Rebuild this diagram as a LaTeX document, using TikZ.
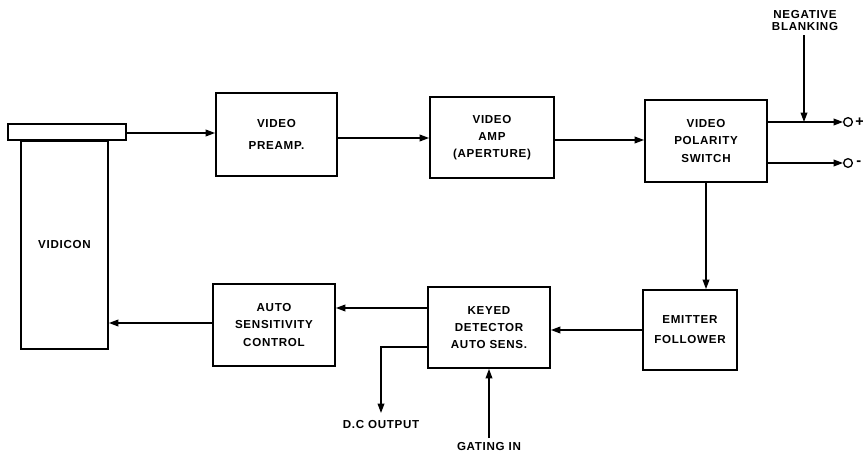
\documentclass[tikz,border=0pt]{standalone}
\usepackage{fontspec}
\setmainfont{Liberation Sans}
\newfontfamily\lbfont[LetterSpace=6]{Liberation Sans}
\usetikzlibrary{arrows.meta}
\begin{document}
\begin{tikzpicture}[x=0.75pt,y=-0.75pt,
  blk/.style={draw,line width=1.4pt,inner sep=0pt,align=center,font=\lbfont\fontsize{8.7}{13}\selectfont\bfseries},
  lbl/.style={inner sep=0pt,align=center,font=\lbfont\fontsize{8.7}{9}\selectfont\bfseries},
  wire/.style={line width=1pt},
  arr/.style={wire,-{Triangle[length=7pt,width=5pt]}},
  term/.style={draw,circle,line width=1pt,minimum size=6.5pt,inner sep=0pt}]
\useasboundingbox (0,0) rectangle (863,456);
% vidicon
\node[blk,minimum width=118*0.75pt,minimum height=16*0.75pt] (bar) at (67,132) {};
\node[blk,minimum width=87*0.75pt,minimum height=208*0.75pt,anchor=north] (vid) at (64.5,140) {VIDICON};
% top row
\node[blk,minimum width=121*0.75pt,minimum height=83*0.75pt,font=\lbfont\fontsize{8.7}{16}\selectfont\bfseries] (pre) at (276.5,134.5) {VIDEO\\PREAMP.};
\node[blk,minimum width=124*0.75pt,minimum height=81*0.75pt] (amp) at (492,137.5) {VIDEO\\AMP\\(APERTURE)};
\node[blk,minimum width=122*0.75pt,minimum height=82*0.75pt] (pol) at (706,141) {VIDEO\\POLARITY\\SWITCH};
% bottom row
\node[blk,minimum width=94*0.75pt,minimum height=80*0.75pt,font=\lbfont\fontsize{8.7}{15}\selectfont\bfseries] (ef) at (690,330) {EMITTER\\FOLLOWER};
\node[blk,minimum width=122*0.75pt,minimum height=81*0.75pt] (kd) at (489,327.5) {KEYED\\DETECTOR\\AUTO SENS.};
\node[blk,minimum width=122*0.75pt,minimum height=82*0.75pt] (asc) at (274,325) {AUTO\\SENSITIVITY\\CONTROL};
% terminals
\node[term] (tp) at (848,122) {};
\node[term] (tm) at (848,163) {};
\node[lbl,font=\fontsize{11}{11}\selectfont\bfseries,anchor=west] (plus) at (855,122) {+};
\node[lbl,font=\fontsize{11}{11}\selectfont\bfseries,anchor=west] (minus) at (856,163) {-};
% labels
\node[lbl] (neg) at (805,21) {NEGATIVE\\BLANKING};
\node[lbl] (dc) at (381,425) {D.C OUTPUT};
\node[lbl] (gate) at (489,447) {GATING IN};
\coordinate (jn) at (804,122);
\coordinate (dcc) at (381,347);
\coordinate (gt) at (489,438);
% connectors
\draw[arr] (bar.east |- 0,133) -- (pre.west |- 0,133);
\draw[arr] (pre.east |- 0,138) -- (amp.west |- 0,138);
\draw[arr] (amp.east |- 0,140) -- (pol.west |- 0,140);
\draw[arr] (pol.east |- tp) -- (tp.west);
\draw[arr] (pol.east |- tm) -- (tm.west);
\draw[arr] (neg.south -| jn) ++(0,4) -- (jn);
\draw[arr] (706,182) -- (ef.north -| 706,0);
\draw[arr] (ef.west |- 0,330) -- (kd.east |- 0,330);
\draw[arr] (kd.west |- 0,308) -- (asc.east |- 0,308);
\draw[arr] (asc.west |- 0,323) -- (vid.east |- 0,323);
\draw[arr] (kd.west |- dcc) -- (dcc) -- (dc.north |- 0,413);
\draw[arr] (gt) -- (kd.south);
\end{tikzpicture}
\end{document}
